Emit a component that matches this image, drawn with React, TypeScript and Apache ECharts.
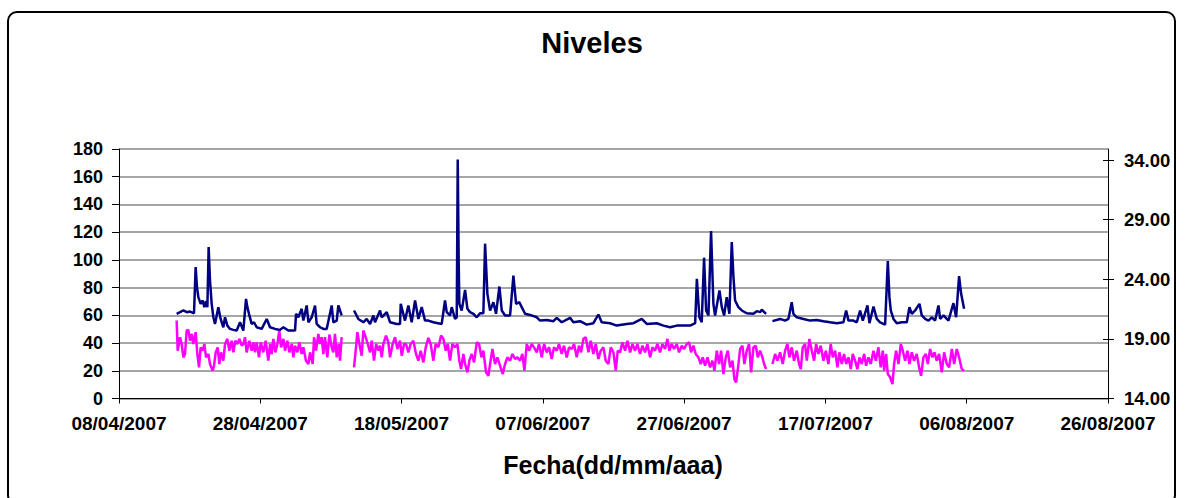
import React, { useEffect, useRef } from 'react';
import * as echarts from 'echarts';

// X axis: days since 08/04/2007
const xTickLabels = ['08/04/2007', '28/04/2007', '18/05/2007', '07/06/2007', '27/06/2007', '17/07/2007', '06/08/2007', '26/08/2007'];
const leftTicks = [0, 20, 40, 60, 80, 100, 120, 140, 160, 180];
const rightTicks = [14, 19, 24, 29, 34];

// Navy series (left axis) – [day, value]
const navySeg1: [number, number][] = [
  [8.16, 61.1], [8.64, 62.3], [9.11, 63.5], [9.58, 62.3], [10.05, 62.7], [10.62, 61.5], [10.85, 94.8], [11.04, 80.4], [11.23, 73.1], [11.56, 68.3],
  [11.85, 70.7], [12.08, 65.9], [12.32, 70.2], [12.51, 65.9], [12.69, 109.3], [12.88, 85.2], [13.12, 68.3], [13.36, 58.6], [13.59, 53.8], [14.06, 65.9],
  [14.39, 57.4], [14.77, 51.4], [15.01, 58.6], [15.34, 52.6], [15.72, 50.2], [16.19, 49.5], [16.66, 49.0], [17.13, 55.0], [17.60, 49.0], [17.98, 71.9],
  [18.17, 65.9], [18.40, 61.1], [18.78, 53.8], [19.11, 55.0], [19.49, 51.4], [20.20, 50.2], [20.91, 57.4], [21.38, 51.4], [22.09, 50.2], [22.79, 49.5],
  [23.27, 51.4], [23.97, 49.0], [24.92, 49.0], [25.06, 61.1], [25.39, 58.6], [25.86, 64.7], [26.10, 56.2], [26.57, 67.1], [26.81, 55.0], [27.28, 58.6],
  [27.75, 67.1], [27.98, 53.8], [28.46, 51.4], [28.93, 50.2], [29.40, 50.2], [30.11, 67.1], [30.34, 55.0], [30.82, 56.2], [31.05, 67.1], [31.52, 59.9],
];
const navySeg2: [number, number][] = [
  [33.27, 63.5], [33.88, 57.4], [34.59, 55.0], [35.06, 57.4], [35.54, 53.8], [36.01, 59.9], [36.24, 55.0], [36.95, 63.5], [37.19, 58.6], [37.90, 62.3],
  [38.37, 55.0], [39.31, 53.8], [39.78, 53.8], [39.88, 68.3], [40.49, 56.2], [40.96, 67.1], [41.43, 55.0], [41.91, 70.7], [42.38, 57.4], [42.85, 65.9],
  [43.32, 56.2], [43.79, 56.2], [44.50, 55.0], [45.68, 53.8], [46.15, 70.7], [46.39, 62.3], [46.86, 59.9], [47.10, 65.9], [47.57, 57.4], [47.81, 58.6],
  [47.95, 172.5], [48.09, 97.3], [48.18, 68.3], [48.51, 63.5], [48.99, 78.4], [49.32, 64.7], [49.69, 62.3], [50.17, 61.1], [50.64, 58.6], [51.11, 61.5],
  [51.58, 61.5], [51.82, 111.7], [52.15, 75.5], [52.53, 63.5], [53.00, 69.5], [53.37, 61.1], [53.85, 80.8], [54.18, 63.5], [54.65, 59.9], [55.36, 59.9],
  [55.83, 88.6], [56.21, 68.3], [56.68, 69.5], [57.01, 65.9], [57.48, 61.1], [58.19, 60.3], [59.14, 58.6], [59.61, 56.2], [60.55, 56.7], [61.50, 55.8],
  [61.96, 58.2], [62.67, 55.0], [63.85, 58.2], [64.32, 55.0], [65.27, 55.8], [66.21, 53.3], [67.15, 54.3], [67.86, 60.6], [68.33, 55.0], [69.51, 54.3],
  [70.46, 52.6], [71.87, 53.8], [72.82, 54.3], [74.00, 57.4], [74.71, 53.8], [76.12, 54.3], [77.07, 52.6], [78.01, 51.4], [78.96, 52.6], [79.90, 52.6],
  [80.85, 52.6], [81.56, 54.3], [81.80, 86.4], [82.16, 58.6], [82.49, 55.0], [82.82, 101.6], [83.11, 63.5], [83.44, 59.9], [83.81, 120.9], [84.14, 68.3],
  [84.38, 59.9], [85.00, 77.9], [85.33, 65.9], [85.66, 59.9], [86.03, 73.1], [86.41, 61.1], [86.74, 112.9], [86.98, 87.6], [87.21, 70.7], [87.68, 65.9],
  [88.16, 63.5], [88.86, 61.5], [89.81, 61.1], [90.28, 63.0], [90.75, 62.3], [90.99, 64.0], [91.60, 61.1],
];
const navySeg3: [number, number][] = [
  [92.50, 55.8], [93.58, 57.4], [94.29, 56.2], [94.76, 57.4], [95.23, 69.5], [95.47, 61.1], [95.94, 58.6], [96.89, 57.4], [97.83, 56.2], [98.77, 56.7],
  [99.72, 55.8], [100.66, 55.0], [101.61, 54.3], [102.55, 55.0], [102.93, 63.5], [103.26, 56.2], [103.97, 56.2], [104.44, 55.0], [104.91, 63.5], [105.29, 56.2],
  [105.95, 67.1], [106.23, 54.3], [106.80, 66.4], [107.27, 57.4], [107.74, 55.0], [108.45, 53.3], [108.83, 99.2], [109.06, 73.1], [109.25, 63.5], [109.63, 57.4],
  [110.10, 54.3], [110.81, 55.0], [111.52, 55.0], [111.89, 65.9], [112.22, 61.1], [112.70, 63.5], [113.31, 68.3], [113.64, 59.9], [114.12, 57.4], [114.59, 56.2],
  [115.06, 58.6], [115.53, 56.2], [116.00, 67.1], [116.24, 57.4], [116.71, 59.9], [117.42, 56.2], [118.12, 68.8], [118.50, 58.6], [118.92, 88.3], [119.21, 75.5],
  [119.63, 64.7],
];

// Magenta series (right axis) – [day, value]
const magentaSeg1: [number, number][] = [
  [8.16, 20.54], [8.31, 18.01], [8.64, 19.14], [8.87, 18.57], [9.11, 17.45], [9.34, 17.73], [9.58, 19.70], [9.82, 19.75], [10.05, 18.85], [10.29, 19.42],
  [10.52, 18.57], [10.85, 19.56], [11.09, 17.73], [11.33, 16.61], [11.56, 18.29], [11.85, 18.01], [12.08, 18.57], [12.32, 17.45], [12.65, 17.73], [12.88, 16.89],
  [13.26, 16.33], [13.45, 16.75], [13.69, 17.87], [13.97, 18.29], [14.20, 16.89], [14.44, 17.87], [14.77, 17.17], [15.01, 18.57], [15.34, 19.00], [15.62, 18.01],
  [15.95, 18.85], [16.19, 17.87], [16.47, 18.85], [16.75, 18.57], [17.04, 19.00], [17.37, 18.43], [17.60, 18.57], [17.84, 19.14], [18.07, 17.87], [18.45, 18.85],
  [18.78, 18.01], [19.02, 18.71], [19.25, 17.87], [19.49, 18.71], [19.82, 17.45], [20.06, 18.71], [20.43, 17.87], [20.76, 18.85], [21.14, 17.17], [21.38, 18.57],
  [21.61, 17.73], [21.85, 19.00], [22.13, 17.87], [22.42, 18.57], [22.70, 19.70], [22.94, 18.29], [23.27, 19.00], [23.50, 18.01], [23.83, 18.85], [24.12, 17.87],
  [24.45, 18.57], [24.68, 17.45], [24.92, 18.43], [25.25, 17.87], [25.53, 18.71], [25.86, 17.73], [26.10, 18.29], [26.47, 17.17], [26.81, 16.89], [27.04, 17.87],
  [27.42, 16.89], [27.61, 19.14], [27.89, 18.01], [28.22, 19.42], [28.46, 18.57], [28.69, 19.14], [28.93, 17.73], [29.16, 19.14], [29.49, 17.45], [29.78, 19.36],
  [30.11, 18.29], [30.34, 17.87], [30.58, 19.42], [30.82, 17.45], [31.10, 18.57], [31.29, 17.17], [31.52, 19.14],
];
const magentaSeg2: [number, number][] = [
  [33.27, 16.61], [33.55, 18.29], [33.74, 19.56], [34.03, 18.57], [34.36, 17.59], [34.59, 19.70], [34.92, 19.14], [35.21, 18.57], [35.54, 17.87], [35.77, 18.85],
  [36.10, 17.17], [36.39, 18.57], [36.72, 18.01], [36.95, 18.43], [37.19, 17.45], [37.42, 18.57], [37.80, 19.28], [38.13, 18.71], [38.37, 17.45], [38.74, 18.57],
  [39.08, 19.14], [39.41, 18.15], [39.78, 18.85], [40.02, 17.59], [40.35, 18.57], [40.63, 18.57], [40.96, 17.87], [41.29, 18.57], [41.67, 18.85], [42.05, 17.73],
  [42.38, 17.17], [42.71, 18.01], [43.09, 17.03], [43.42, 18.29], [43.79, 19.08], [44.12, 18.57], [44.50, 17.17], [44.83, 18.57], [45.21, 18.29], [45.59, 19.28],
  [45.92, 19.00], [46.25, 18.01], [46.53, 18.57], [46.86, 17.17], [47.19, 18.57], [47.57, 18.29], [47.90, 18.57], [48.18, 17.17], [48.42, 16.47], [48.75, 17.73],
  [48.99, 16.89], [49.32, 16.19], [49.60, 17.17], [49.93, 17.73], [50.26, 17.03], [50.64, 18.71], [50.97, 18.57], [51.30, 17.45], [51.58, 18.01], [51.96, 16.19],
  [52.29, 15.91], [52.53, 16.89], [52.86, 18.15], [53.23, 16.89], [53.56, 17.45], [53.94, 16.75], [54.32, 16.05], [54.65, 16.89], [54.98, 17.45], [55.36, 17.17],
  [55.69, 17.73], [56.06, 17.31], [56.39, 17.45], [56.77, 17.17], [57.10, 17.73], [57.39, 16.33], [57.72, 18.57], [58.05, 18.01], [58.42, 18.57], [58.75, 18.29],
  [59.13, 17.87], [59.46, 18.57], [59.84, 17.45], [60.17, 18.57], [60.55, 17.87], [60.88, 18.29], [61.25, 17.31], [61.58, 18.29], [61.96, 18.01], [62.29, 18.57],
  [62.67, 17.73], [63.00, 18.43], [63.38, 17.45], [63.71, 18.29], [64.09, 18.15], [64.42, 18.57], [64.79, 17.45], [65.12, 18.43], [65.41, 17.87], [65.74, 19.00],
  [66.07, 19.14], [66.45, 17.87], [66.78, 18.85], [67.15, 17.73], [67.48, 18.57], [67.86, 17.31], [68.19, 18.01], [68.57, 18.29], [68.90, 17.17], [69.28, 16.89],
  [69.61, 18.29], [69.99, 17.87], [70.32, 16.33], [70.60, 18.01], [70.93, 17.87], [71.26, 18.71], [71.64, 18.01], [71.97, 18.85], [72.35, 17.87], [72.68, 18.57],
  [73.05, 18.01], [73.38, 18.57], [73.76, 17.73], [74.09, 18.43], [74.47, 17.87], [74.80, 18.57], [75.18, 17.45], [75.51, 18.29], [75.88, 18.01], [76.21, 18.57],
  [76.59, 17.87], [76.92, 18.57], [77.30, 18.15], [77.63, 19.00], [77.91, 18.01], [78.24, 18.57], [78.57, 18.15], [78.95, 18.57], [79.28, 17.87], [79.66, 18.43],
  [79.99, 18.15], [80.37, 18.57], [80.70, 18.71], [80.98, 17.87], [81.31, 18.43], [81.64, 17.73], [82.02, 17.45], [82.35, 16.89], [82.63, 17.45], [82.96, 16.75],
  [83.30, 17.45], [83.67, 16.61], [84.00, 17.17], [84.29, 16.33], [84.62, 18.01], [84.95, 16.89], [85.23, 18.01], [85.56, 16.05], [85.89, 17.45], [86.18, 18.01],
  [86.51, 16.61], [86.84, 17.17], [87.12, 15.63], [87.36, 15.35], [87.69, 16.89], [87.92, 18.15], [88.25, 18.43], [88.53, 16.89], [88.86, 18.01], [89.19, 18.57],
  [89.48, 16.19], [89.81, 18.29], [90.14, 18.43], [90.42, 17.45], [90.75, 18.01], [91.08, 17.45], [91.32, 16.89], [91.60, 16.47],
];
const magentaSeg3: [number, number][] = [
  [92.50, 16.89], [92.88, 17.73], [93.21, 17.17], [93.58, 17.87], [93.96, 16.89], [94.29, 18.01], [94.62, 18.57], [94.90, 17.45], [95.23, 18.29], [95.56, 17.17],
  [95.94, 18.01], [96.27, 16.89], [96.51, 16.47], [96.79, 18.29], [97.12, 18.57], [97.36, 17.17], [97.73, 19.00], [98.07, 18.01], [98.40, 17.17], [98.68, 18.57],
  [99.01, 17.73], [99.34, 18.43], [99.72, 17.17], [100.05, 18.01], [100.42, 16.89], [100.75, 18.57], [101.04, 17.45], [101.37, 18.01], [101.70, 16.61], [101.98, 17.87],
  [102.31, 16.89], [102.64, 17.73], [102.93, 16.89], [103.26, 17.45], [103.59, 16.47], [103.87, 17.73], [104.20, 17.17], [104.53, 16.47], [104.81, 17.45], [105.14, 16.89],
  [105.48, 17.73], [105.76, 16.75], [106.09, 17.45], [106.42, 16.89], [106.80, 18.01], [107.13, 17.17], [107.50, 18.29], [107.83, 16.61], [108.12, 18.01], [108.31, 16.33],
  [108.59, 17.73], [108.83, 16.05], [109.16, 15.77], [109.49, 15.21], [109.72, 16.89], [110.01, 18.01], [110.34, 16.89], [110.67, 18.57], [110.95, 18.01], [111.28, 17.17],
  [111.61, 18.01], [111.89, 16.89], [112.22, 17.87], [112.55, 17.17], [112.93, 17.73], [113.26, 16.61], [113.54, 15.91], [113.87, 17.45], [114.21, 17.73], [114.49, 16.89],
  [114.82, 18.15], [115.15, 17.45], [115.43, 17.87], [115.76, 17.17], [116.09, 17.73], [116.47, 16.19], [116.80, 17.87], [117.18, 16.89], [117.51, 16.61], [117.89, 18.15],
  [118.22, 16.89], [118.59, 18.15], [118.92, 17.45], [119.30, 16.47], [119.63, 16.33],
];

// gaps in the record
const gapDays = [32.4, 92.05];

const FONT = "'Liberation Sans', Arial, Helvetica, sans-serif";

export default function App() {
  const ref = useRef<HTMLDivElement>(null);
  useEffect(() => {
    if (!ref.current) return;
    const chart = echarts.init(ref.current, null, { renderer: 'svg' });
    const navy = [...navySeg1, [gapDays[0], null], ...navySeg2, [gapDays[1], null], ...navySeg3];
    const magenta = [...magentaSeg1, [gapDays[0], null], ...magentaSeg2, [gapDays[1], null], ...magentaSeg3];
    const labelStyle = { fontSize: 18, fontWeight: 'bold', color: '#000', fontFamily: FONT };
    const rMin = rightTicks[0];
    const rMax = rightTicks[rightTicks.length - 1];
    chart.setOption({
      animation: false,
      backgroundColor: '#fff',
      grid: [
        { left: 119, top: 149, width: 989, height: 249.5 },
        { left: 119, top: 160, width: 989, height: 238.5 },
        { left: 119, top: 160, width: 989, height: 238.5 },
      ],
      xAxis: [
        {
          gridIndex: 0, type: 'value', min: 0, max: 140, interval: 20,
          axisLine: { show: true, onZero: false, lineStyle: { color: '#000', width: 1 } },
          axisTick: { show: true, length: 5, lineStyle: { color: '#000' } },
          axisLabel: { ...labelStyle, fontSize: 19, margin: 15, formatter: (v: number) => xTickLabels[Math.round(v / 20)] ?? '' },
          splitLine: { show: false },
        },
        { gridIndex: 1, type: 'value', min: 0, max: 140, show: false, axisLine: { onZero: false } },
        { gridIndex: 2, type: 'value', min: 0, max: 140, show: false, axisLine: { onZero: false } },
      ],
      yAxis: [
        {
          gridIndex: 0, type: 'value', position: 'left', min: leftTicks[0], max: leftTicks[leftTicks.length - 1], interval: 20,
          axisLine: { show: true, onZero: false, lineStyle: { color: '#000', width: 1 } },
          axisTick: { show: true, length: 7, lineStyle: { color: '#000' } },
          axisLabel: { ...labelStyle, margin: 16 },
          splitLine: { show: true, lineStyle: { color: '#888', width: 1.5 } },
        },
        {
          gridIndex: 0, type: 'value', position: 'right', min: 0, max: 180,
          axisLine: { show: true, onZero: false, lineStyle: { color: '#000', width: 1 } },
          axisTick: { show: false }, axisLabel: { show: false }, splitLine: { show: false },
        },
        {
          gridIndex: 1, type: 'value', position: 'right', min: rMin, max: rMax, interval: 5,
          axisLine: { show: false, onZero: false },
          axisTick: { show: true, length: 6, lineStyle: { color: '#000' } },
          axisLabel: { ...labelStyle, fontSize: 18.5, margin: 16, formatter: (v: number) => v.toFixed(2) },
          splitLine: { show: false },
        },
        {
          gridIndex: 2, type: 'value', position: 'right', min: rMin, max: rMax, interval: 5,
          axisLine: { show: false, onZero: false },
          axisTick: { show: true, inside: true, length: 5, lineStyle: { color: '#000' } },
          axisLabel: { show: false }, splitLine: { show: false },
        },
      ],
      series: [
        {
          type: 'line', xAxisIndex: 1, yAxisIndex: 2, data: magenta, showSymbol: false, connectNulls: false,
          lineStyle: { color: '#FF00FF', width: 2.5 }, itemStyle: { color: '#FF00FF' }, z: 2,
        },
        {
          type: 'line', xAxisIndex: 0, yAxisIndex: 0, data: navy, showSymbol: false, connectNulls: false,
          lineStyle: { color: '#000080', width: 2.5 }, itemStyle: { color: '#000080' }, z: 3,
        },
      ],
      graphic: [
        {
          type: 'rect', silent: true,
          shape: { x: 8, y: 12, width: 1167, height: 492, r: 9 },
          style: { fill: 'none', stroke: '#000', lineWidth: 2 },
        },
        {
          type: 'text', x: 592, y: 28, silent: true,
          style: { text: 'Niveles', font: `bold 29px ${FONT}`, fill: '#000', textAlign: 'center', textVerticalAlign: 'top', align: 'center', verticalAlign: 'top' },
        },
        {
          type: 'text', x: 613, y: 452, silent: true,
          style: { text: 'Fecha(dd/mm/aaa)', font: `bold 25px ${FONT}`, fill: '#000', textAlign: 'center', textVerticalAlign: 'top', align: 'center', verticalAlign: 'top' },
        },
      ],
    });
    return () => chart.dispose();
  }, []);
  return <div ref={ref} style={{ position: 'absolute', left: 0, top: 0, width: 1185, height: 498, background: '#fff' }} />;
}
